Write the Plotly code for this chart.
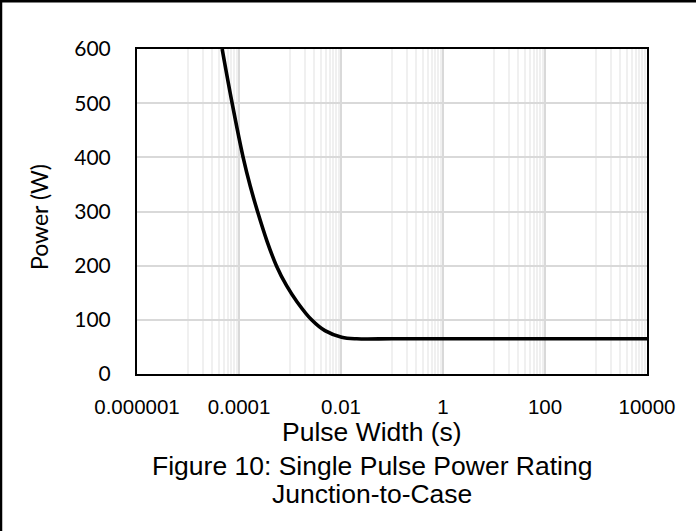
import plotly.graph_objects as go

# Single pulse power rating curve (junction-to-case)
pulse_width_s = [4.67e-5, 7.33e-5, 1.205e-4, 1.66e-4, 2.31e-4, 3.55e-4, 5.41e-4,
                 8.57e-4, 1.38e-3, 2.65e-3, 4.84e-3, 1.03e-2, 2.03e-2,
                 1.0e-1, 1.0, 1.0e2, 1.0e4]
power_w = [600, 500, 400, 347, 300, 245, 200,
           163, 133, 100, 80, 68, 65,
           65, 65, 65, 65]

x_tick_vals = [1e-6, 1e-4, 1e-2, 1, 100, 1e4]
x_tick_text = ["0.000001", "0.0001", "0.01", "1", "100", "10000"]
y_tick_vals = [0, 100, 200, 300, 400, 500, 600]

W, H = 696, 531
L, R, T, B = 137, 49, 49, 157
PW, PH = W - L - R, H - T - B

def px_x(px):
    return (px - L) / PW

def px_y(py):
    return (H - B - py) / PH

# light intermediate gridlines inside each two-decade span
minor_vals = [m * 10.0 ** e for e in (-5, -3, -1, 1, 3) for m in range(1, 10)]

fig = go.Figure()
fig.add_trace(go.Scatter(
    x=pulse_width_s, y=power_w, mode="lines",
    line=dict(color="black", width=3.6, shape="spline", smoothing=1.0),
    showlegend=False, hoverinfo="skip", cliponaxis=True,
))

fig.update_layout(
    width=W, height=H,
    margin=dict(l=L, r=R, t=T, b=B),
    paper_bgcolor="white", plot_bgcolor="white",
    xaxis=dict(
        type="log", range=[-6, 4],
        tickmode="array", tickvals=x_tick_vals, ticktext=x_tick_text,
        tickfont=dict(family="Liberation Sans, Arial, sans-serif", size=20.5, color="black"),
        ticks="outside", ticklen=13, tickcolor="rgba(0,0,0,0)",
        showgrid=True, gridcolor="#d9d9d9", gridwidth=1.5,
        minor=dict(tickmode="array", tickvals=minor_vals, showgrid=True,
                   gridcolor="#f0f0f0", gridwidth=1.5, ticks=""),
        showline=True, linecolor="black", linewidth=2, mirror=True,
        zeroline=False,
    ),
    yaxis=dict(
        range=[0, 600],
        tickmode="array", tickvals=y_tick_vals,
        tickfont=dict(family="Lato, sans-serif", size=21, color="black"),
        ticks="outside", ticklen=20, tickcolor="rgba(0,0,0,0)",
        showgrid=True, gridcolor="#d9d9d9", gridwidth=1.5,
        showline=True, linecolor="black", linewidth=2, mirror=True,
        zeroline=False,
    ),
)

cap_font = dict(family="Liberation Sans, Arial, sans-serif", size=26.5, color="black")
fig.add_annotation(text="Pulse Width (s)", xref="paper", yref="paper",
                   x=px_x(372), y=px_y(432), xanchor="center", yanchor="middle",
                   showarrow=False, font=cap_font)
fig.add_annotation(text="Figure 10: Single Pulse Power Rating", xref="paper", yref="paper",
                   x=px_x(372), y=px_y(466.5), xanchor="center", yanchor="middle",
                   showarrow=False, font=cap_font)
fig.add_annotation(text="Junction-to-Case", xref="paper", yref="paper",
                   x=px_x(372), y=px_y(494), xanchor="center", yanchor="middle",
                   showarrow=False, font=cap_font)
fig.add_annotation(text="Power (W)", xref="paper", yref="paper",
                   x=px_x(39), y=px_y(217), xanchor="center", yanchor="middle",
                   textangle=-90, showarrow=False,
                   font=dict(family="Lato, sans-serif", size=23, color="black"))

# outer frame edges along the top and left of the figure
fig.add_shape(type="line", xref="paper", yref="paper",
              x0=px_x(0), x1=px_x(W), y0=px_y(1.2), y1=px_y(1.2),
              line=dict(color="black", width=2.5))
fig.add_shape(type="line", xref="paper", yref="paper",
              x0=px_x(1), x1=px_x(1), y0=px_y(0), y1=px_y(H),
              line=dict(color="black", width=2.5))

fig.write_html("out.html")
